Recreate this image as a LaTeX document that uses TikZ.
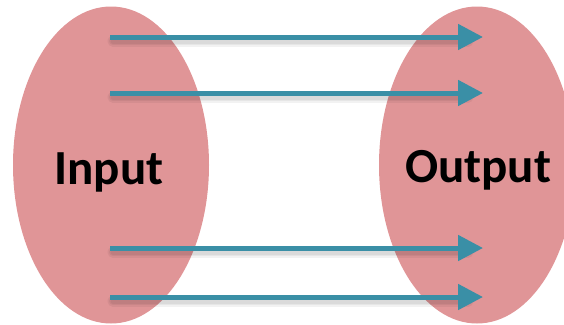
\documentclass[tikz,border=0pt]{standalone}
\usepackage{fontspec}
\setmainfont{Carlito}
\usetikzlibrary{arrows.meta,shapes.geometric}
\definecolor{blobpink}{HTML}{E09597}
\definecolor{arrowteal}{HTML}{3A8FA6}
\begin{document}
\begin{tikzpicture}[x=1pt,y=-1pt,
  blob/.style={ellipse, fill=blobpink, draw=none, minimum width=196pt, minimum height=317pt, inner sep=0pt},
  lbl/.style={font=\bfseries\fontsize{49}{52}\selectfont, text=black},
  mapar/.style={draw=arrowteal, line width=5pt, -{Triangle[length=25pt,width=25pt]}},
  shad/.style={draw=black, opacity=0.05, line cap=round}]
\useasboundingbox (0,0) rectangle (564,324);
\clip (0,0) rectangle (564,324);
\node[blob] (inp) at (111,165) {};
\node[blob] (outp) at (477,165) {};
\node[lbl, anchor=base] (tin) at (109,184) {Input};
\node[lbl, anchor=base] (tout) at (478,182) {Output};
\foreach \i/\y in {1/37,2/93,3/248,4/297}{
  \coordinate (s\i) at (110,\y);
  \coordinate (e\i) at (483,\y);
  \coordinate (ss\i) at (113,\y+4);
  \coordinate (se\i) at (468,\y+4);
  \draw[shad, line width=11pt] (ss\i) -- (se\i);
  \draw[shad, line width=8pt] (ss\i) -- (se\i);
  \draw[shad, line width=5pt] (ss\i) -- (se\i);
  \draw[mapar] (s\i) -- (e\i);
}
\end{tikzpicture}
\end{document}
